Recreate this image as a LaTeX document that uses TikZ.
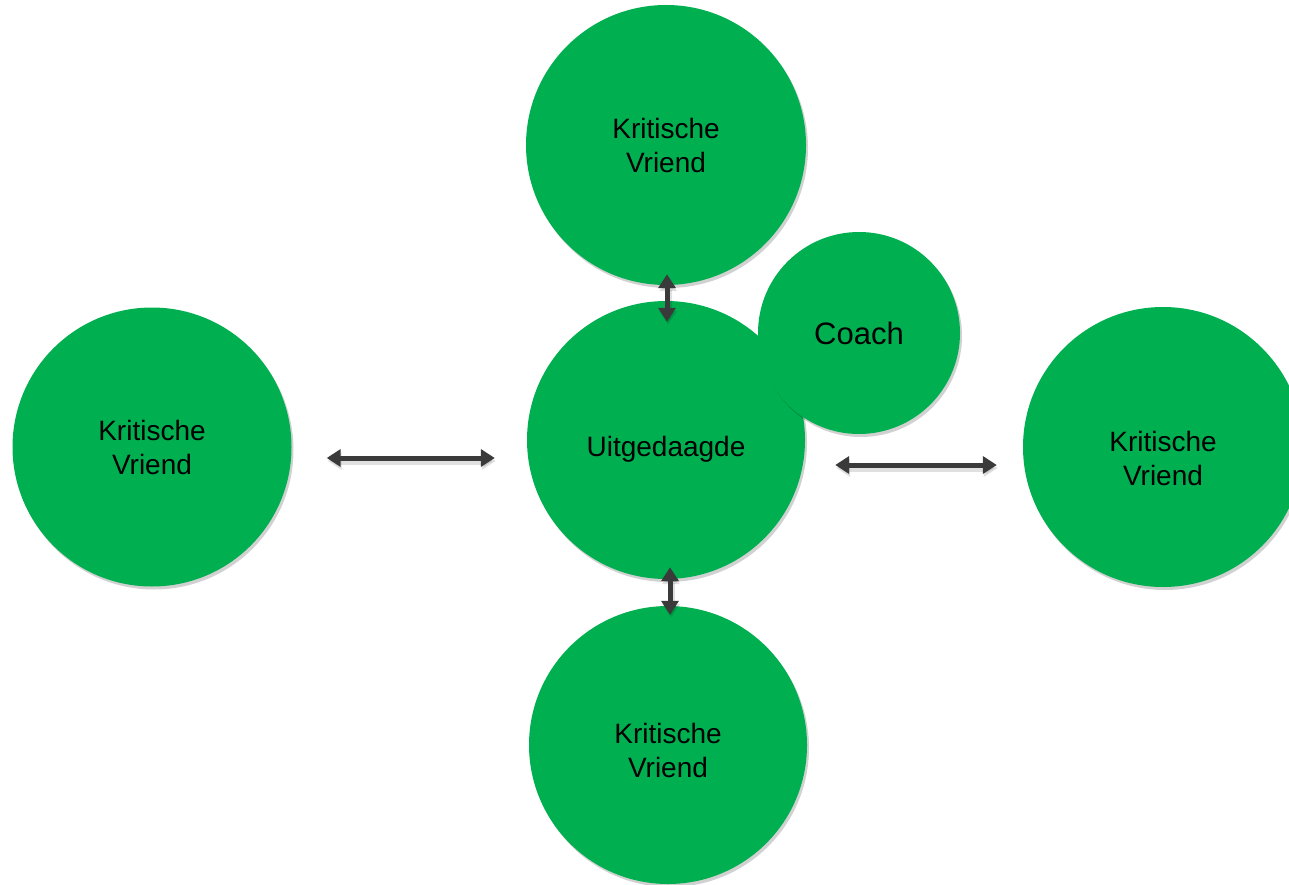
\documentclass[tikz,border=0pt]{standalone}
\usepackage{fontspec}
\setmainfont{Liberation Sans}
\usetikzlibrary{arrows.meta,shadows,calc}
\definecolor{circgreen}{HTML}{00B050}
\definecolor{arrgray}{HTML}{3A3A3A}
\tikzset{
  circ/.style={circle, fill=circgreen, draw=none, inner sep=0pt, align=center,
    font=\fontsize{28}{34}\selectfont,
    drop shadow={shadow xshift=2pt, shadow yshift=-3pt, opacity=0.18, fill=black}},
  txt/.style={font=\fontsize{28}{34}\selectfont, align=center},
  arr/.style={draw=arrgray, line width=5pt, {Triangle[width=17pt,length=14pt]}-{Triangle[width=17pt,length=14pt]},
    preaction={draw=black, opacity=0.12, line width=7pt, transform canvas={xshift=1pt,yshift=-3pt}}}
}
\begin{document}
\begin{tikzpicture}[x=1pt,y=-1pt]
\useasboundingbox (0,0) rectangle (1289,885);
\fill[white] (0,0) rectangle (1289,885);
\node[circ, minimum size=280pt] (T) at (666,145) {Kritische\\Vriend};
\node[circ, minimum size=279pt] (L) at (152,447) {Kritische\\Vriend};
\node[circ, minimum size=280pt, label={[txt, yshift=-11pt]center:Kritische\\Vriend}] (R) at (1163,447) {};
\node[circ, minimum size=278pt, label={[txt, yshift=-5pt]center:Kritische\\Vriend}] (B) at (668,745) {};
\node[circ, minimum size=278pt, label={[txt, yshift=-9pt]center:Uitgedaagde}] (C) at (666,440) {};
\node[circ, minimum size=202pt, font=\fontsize{31}{36}\selectfont] (K) at (859,333) {Coach};
\draw[arr] ([xshift=35pt,yshift=-11pt]L.east) -- ([xshift=-32pt,yshift=-18pt]C.west);
\draw[arr] ([xshift=30pt,yshift=-25pt]C.east) -- ([xshift=-26pt,yshift=-18pt]R.west);
\draw[arr] ([xshift=1pt,yshift=11pt]T.south) -- ([xshift=1pt,yshift=-21pt]C.north);
\draw[arr] ([xshift=4pt,yshift=12pt]C.south) -- ([xshift=2pt,yshift=-9pt]B.north);
\end{tikzpicture}
\end{document}
